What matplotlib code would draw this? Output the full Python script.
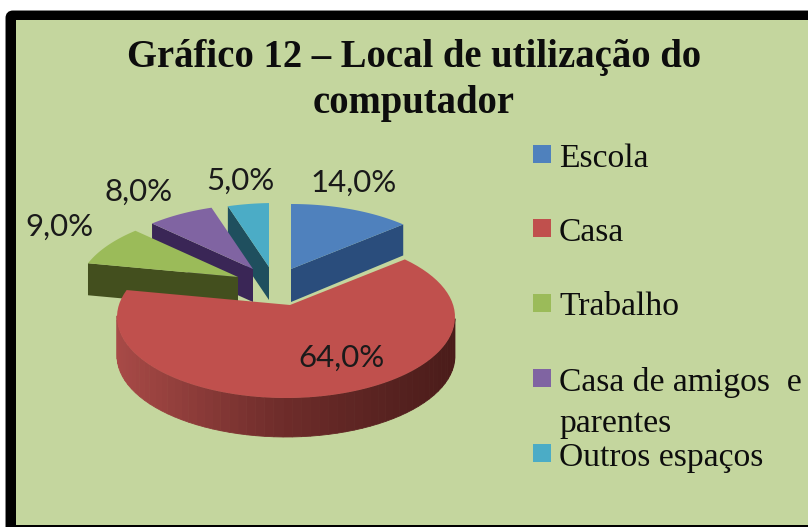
import numpy as np
import matplotlib
matplotlib.use("Agg")
import matplotlib.pyplot as plt
from matplotlib.patches import FancyBboxPatch, Polygon, Rectangle

titulo = ["Gráfico 12 – Local de utilização do", "computador"]
categorias = ["Escola", "Casa", "Trabalho", "Casa de amigos  e\nparentes", "Outros espaços"]
valores = [14.0, 64.0, 9.0, 8.0, 5.0]
rotulos = ["14,0%", "64,0%", "9,0%", "8,0%", "5,0%"]

FUNDO = "#c4d69e"
cores = ["#4f81bd", "#c0504d", "#9bbb59", "#8064a2", "#4bacc6"]
cores_lado = ["#2a4d7c", "#6e2c2a", "#434f1e", "#3a2656", "#1f4f5e"]

# posicao em pixels de cada fatia (a perspectiva desloca o vertice)
vertices = [(291, 269), (290, 305), (238, 277), (253, 269), (269, 267)]
centros = [(291, 285), (286, 317), (246, 292), (262, 285), (275, 284)]
alturas = [33, 39, 32, 33, 33]
pos_rotulos = [(354, 183), (341, 358), (59, 227), (139, 192), (240, 181)]
RX = 169
RY = 81
K = 0.48

fig = plt.figure(figsize=(8.08, 5.27), dpi=100, facecolor="white")
ax = fig.add_axes([0, 0, 1, 1])
ax.set_xlim(0, 808)
ax.set_ylim(527, 0)
ax.axis("off")

ax.add_patch(FancyBboxPatch((9, 14), 900, 600, boxstyle="round,pad=0,rounding_size=4",
                            fc="black", ec="black", lw=5, zorder=0))
ax.add_patch(Rectangle((16, 20), 800, 505, fc=FUNDO, ec="none", zorder=1))


def ponto_borda(vertice, centro, ang):
    """Raio que sai do vertice no angulo ang (horario, a partir do topo) ate a elipse"""
    dx = np.sin(ang)
    dy = -np.cos(ang) * K
    ox = (vertice[0] - centro[0]) / RX
    oy = (vertice[1] - centro[1]) / RY
    a = (dx / RX) ** 2 + (dy / RY) ** 2
    b = 2 * (ox * dx / RX + oy * dy / RY)
    c = ox ** 2 + oy ** 2 - 1
    s = (-b + np.sqrt(b ** 2 - 4 * a * c)) / (2 * a)
    x = vertice[0] + s * dx
    y = vertice[1] + s * dy
    return np.arctan2(x - centro[0], -(y - centro[1]) * RX / RY), x, y


def arco(centro, t0, t1, n=80):
    if t1 < t0:
        t1 += 2 * np.pi
    t = np.linspace(t0, t1, n)
    return centro[0] + RX * np.sin(t), centro[1] - RY * np.cos(t), t


fracao = np.array(valores) / sum(valores)
fim = np.cumsum(fracao) * 2 * np.pi
inicio = fim - fracao * 2 * np.pi

# de tras para a frente
for i in [4, 3, 2, 0, 1]:
    v = vertices[i]
    c = centros[i]
    h = alturas[i]
    t0, x0, y0 = ponto_borda(v, c, inicio[i])
    t1, x1, y1 = ponto_borda(v, c, fim[i])
    xs, ys, ts = arco(c, t0, t1)

    if i == 1:
        # lateral externa com degrade
        c_esq = np.array(matplotlib.colors.to_rgb("#a84a47"))
        c_meio = np.array(matplotlib.colors.to_rgb("#6e2c2a"))
        c_dir = np.array(matplotlib.colors.to_rgb("#4a1c1a"))
        for j in range(len(xs) - 1):
            if np.cos(ts[j]) > 0:
                continue
            u = (xs[j] - (c[0] - RX)) / (2 * RX)
            if u < 0.5:
                cor = c_esq + (c_meio - c_esq) * u / 0.5
            else:
                cor = c_meio + (c_dir - c_meio) * (u - 0.5) / 0.5
            ax.add_patch(Polygon([(xs[j], ys[j]), (xs[j + 1], ys[j + 1]),
                                  (xs[j + 1], ys[j + 1] + h), (xs[j], ys[j] + h)],
                                 fc=cor, ec=cor, lw=0.6, zorder=3))
    elif i == 0:
        # no azul a face visivel e o corte do lado direito
        ax.add_patch(Polygon([(v[0], v[1]), (x1, y1), (x1, y1 + h - 2), (v[0], v[1] + h)],
                             fc=cores_lado[i], ec="none", zorder=3))
    else:
        ax.add_patch(Polygon([(v[0], v[1]), (x0, y0), (x0, y0 + h), (v[0], v[1] + h)],
                             fc=cores_lado[i], ec="none", zorder=3))

    pts = [v] + list(zip(xs, ys))
    ax.add_patch(Polygon(pts, fc=cores[i], ec="none", zorder=3))

for r, p in zip(rotulos, pos_rotulos):
    ax.text(p[0], p[1], r, family="Lato", fontsize=22.5, color="#1a1a1a",
            ha="center", va="center", zorder=5)

ax.text(414, 58, titulo[0], family="Liberation Serif", fontweight="bold", fontsize=27.8,
        color="#0d0d0d", ha="center", va="center", zorder=5)
ax.text(414, 104, titulo[1], family="Liberation Serif", fontweight="bold", fontsize=27.8,
        color="#0d0d0d", ha="center", va="center", zorder=5)

# legenda
leg_y = [145, 219, 294, 369, 444]
leg_base = [167, 241, 315, 391, 466]
for i, nome in enumerate(categorias):
    ax.add_patch(Rectangle((533, leg_y[i]), 18, 18, fc=cores[i], ec="none", zorder=5))
    linhas = nome.split("\n")
    ax.text(559, leg_base[i], linhas[0], family="Liberation Serif", fontsize=24.2,
            color="#0d0d0d", ha="left", va="baseline", zorder=5)
    if len(linhas) > 1:
        ax.text(559, leg_base[i] + 41, linhas[1], family="Liberation Serif", fontsize=24.2,
                color="#0d0d0d", ha="left", va="baseline", zorder=5)

fig.savefig("out.png", dpi=100, facecolor="white")
